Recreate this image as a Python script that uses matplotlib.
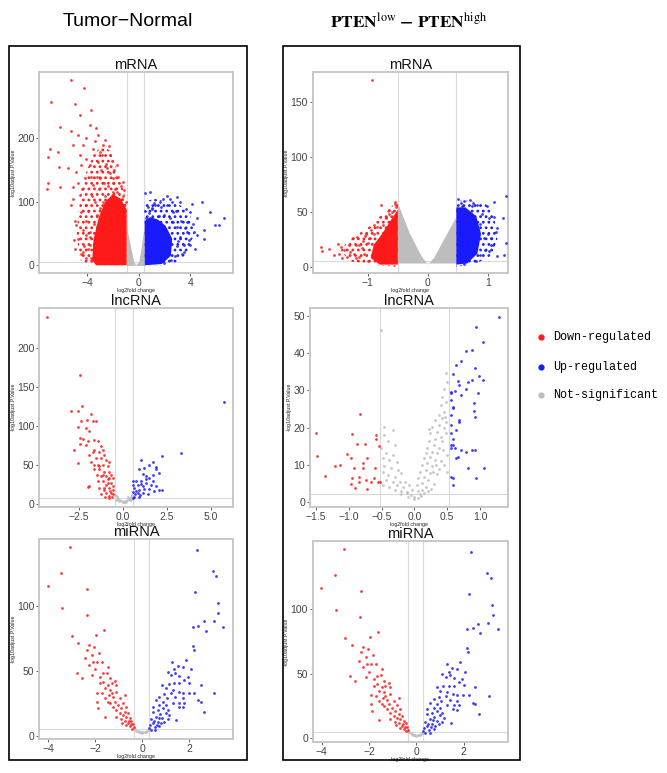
import numpy as np
import matplotlib
matplotlib.use("Agg")
import matplotlib.pyplot as plt
from matplotlib.patches import Rectangle
from matplotlib.lines import Line2D

plt.rcParams['font.family'] = ['Liberation Sans', 'DejaVu Sans']
plt.rcParams['mathtext.fontset'] = 'stix'
plt.rcParams['hatch.linewidth'] = 1.2

RED = '#ff1a1a'
BLUE = '#1a1aff'
GRAY = '#bdbdbd'

# ---------------- Tumor-Normal, mRNA ----------------
# dense clouds: outline of the speckled halo and of the solid part
tn_mrna_down_halo = [(-0.93, 0), (-0.93, 100), (-1.5, 140), (-2.2, 180), (-2.8, 190), (-3.5, 175),
                     (-4.2, 140), (-4.6, 95), (-4.8, 50), (-4.6, 10), (-4.0, 0)]
tn_mrna_down_core = [(-0.93, 0), (-0.93, 88), (-1.4, 105), (-2.0, 112), (-2.6, 100), (-3.1, 75),
                     (-3.5, 40), (-3.6, 8), (-3.3, 0)]
tn_mrna_down = [(-5.22, 292), (-4.26, 279), (-6.78, 257), (-4.96, 254), (-3.66, 245), (-4.57, 237),
                (-6.13, 218), (-5.22, 211), (-6.91, 184), (-6.26, 179), (-7.04, 171), (-6.18, 155),
                (-5.48, 153), (-7.04, 129), (-7.12, 121), (-6.13, 124), (-5.09, 124), (-4.83, 147),
                (-4.31, 189), (-4.05, 200), (-3.27, 216), (-3.14, 205), (-3.79, 221), (-4.70, 205),
                (-5.09, 189), (-3.53, 184), (-2.75, 189), (-2.88, 174), (-4.05, 168), (-4.57, 174),
                (-4.44, 158), (-3.79, 158), (-3.14, 163), (-2.49, 153), (-5.09, 105), (-4.57, 111),
                (-5.22, 95), (-4.83, 63), (-4.44, 84), (-4.05, 95), (-4.05, 47), (-4.70, 42),
                (-4.31, 21), (-3.79, 53), (-3.79, 32), (-4.18, 137), (-3.53, 126), (-3.01, 137),
                (-2.23, 174), (-1.97, 137), (-1.71, 116), (-1.45, 100), (-3.53, 11), (-4.05, 11),
                (-4.96, 26), (-1.1, 95), (-1.3, 105), (-1.5, 92), (-1.8, 120), (-2.0, 130),
                (-2.2, 145), (-2.4, 125), (-2.6, 110), (-2.8, 100), (-3.0, 90), (-3.2, 80),
                (-3.5, 65), (-3.8, 45), (-3.9, 25), (-3.7, 12), (-3.3, 8), (-2.9, 3), (-2.0, 115),
                (-2.3, 100), (-2.7, 130), (-3.1, 120), (-3.4, 100), (-1.4, 125), (-1.2, 110),
                (-1.0, 100), (-1.6, 140), (-1.9, 150), (-2.1, 165), (-2.5, 160), (-2.9, 150),
                (-3.2, 140), (-3.6, 110), (-3.9, 85), (-4.1, 70), (-4.3, 55), (-4.2, 30), (-4.5, 18),
                (-1.2, 132), (-1.7, 158), (-2.3, 188), (-3.0, 178), (-3.7, 140), (-4.4, 120),
                (-4.9, 70), (-5.0, 40), (-4.7, 130), (-2.6, 198), (-1.1, 118), (-3.4, 196)]
tn_mrna_ns_core = [(-0.92, 62), (-0.6, 30), (-0.35, 5), (-0.2, 0), (0.05, 5), (0.25, 30),
                   (0.45, 58), (0.45, -1), (-0.92, -1)]
tn_mrna_up_halo = [(0.47, 0), (0.47, 100), (1.2, 105), (2.2, 100), (3.2, 95), (4.0, 80), (4.3, 50),
                   (3.8, 20), (3.0, 5), (2.0, 0)]
tn_mrna_up_core = [(0.47, 0), (0.47, 70), (0.9, 76), (1.5, 72), (2.1, 62), (2.6, 42), (2.5, 15),
                   (1.8, 2)]
tn_mrna_up = [(0.88, 116), (0.52, 114), (2.44, 105), (3.22, 100), (4.91, 100), (4.13, 97),
              (6.6, 74), (6.21, 63), (5.95, 63), (5.04, 42), (4.26, 53), (4.0, 32), (4.39, 26),
              (3.48, 21), (5.56, 84), (4.52, 74), (3.74, 68), (2.18, 110), (1.66, 100), (2.70, 84),
              (3.74, 53), (3.09, 39), (3.48, 32), (5.04, 55), (4.0, 84), (2.96, 108), (0.6, 75),
              (0.8, 82), (1.0, 90), (1.3, 95), (1.7, 92), (2.0, 80), (2.4, 75), (2.7, 68), (3.0, 60),
              (3.2, 45), (3.0, 30), (2.8, 15), (2.5, 8), (2.0, 3), (1.0, 88), (1.6, 78), (2.2, 95),
              (2.9, 85), (3.3, 70), (3.6, 58), (3.9, 40), (3.4, 18), (4.2, 65), (4.5, 48), (3.7, 88),
              (2.6, 100), (1.9, 104), (1.2, 98), (0.7, 92), (0.5, 85)]

# ---------------- PTEN low-high, mRNA ----------------
pt_mrna_down_halo = [(-0.5, 0), (-0.5, 60), (-0.7, 50), (-0.9, 40), (-1.1, 32), (-1.3, 25),
                     (-1.45, 15), (-1.3, 5), (-1.0, 2)]
pt_mrna_down_core = [(-0.5, 2), (-0.5, 52), (-0.62, 42), (-0.76, 30), (-0.9, 20), (-0.95, 8),
                     (-0.8, 2)]
pt_mrna_down = [(-0.93, 170), (-1.78, 18), (-1.75, 14), (-1.64, 16), (-1.50, 21), (-1.45, 18),
                (-1.47, 12), (-1.39, 15), (-1.31, 20), (-1.25, 26), (-1.17, 27), (-1.14, 20),
                (-1.08, 23), (-1.03, 30), (-0.97, 26), (-0.89, 38), (-0.80, 45), (-0.78, 56),
                (-0.64, 48), (-0.55, 59), (-0.53, 54), (-0.69, 44), (-1.22, 12), (-1.06, 12),
                (-1.34, 9), (-1.14, 9), (-1.56, 11), (-1.42, 8), (-0.55, 57), (-0.6, 50), (-0.7, 45),
                (-0.75, 38), (-0.9, 30), (-1.0, 22), (-1.1, 17), (-1.2, 8), (-1.0, 5), (-0.65, 52),
                (-0.85, 36), (-1.05, 28), (-0.95, 33), (-1.2, 20), (-1.3, 13)]
pt_mrna_ns_core = [(-0.5, 58), (-0.3, 30), (-0.1, 9), (0.0, 2), (0.1, 8), (0.3, 28), (0.47, 45),
                   (0.47, 3), (-0.5, 3)]
pt_mrna_up_halo = [(0.47, 0), (0.47, 60), (0.7, 60), (0.95, 58), (1.1, 45), (1.15, 25), (1.05, 10),
                   (0.8, 3)]
pt_mrna_up_core = [(0.47, 2), (0.47, 54), (0.62, 54), (0.8, 46), (0.88, 30), (0.82, 12), (0.65, 3)]
pt_mrna_up = [(1.29, 64), (1.10, 59), (1.25, 44), (1.29, 22), (1.26, 11), (1.15, 10), (1.04, 20),
              (1.12, 32), (1.01, 44), (0.98, 55), (0.82, 56), (0.73, 55), (0.56, 55), (0.87, 39),
              (1.07, 20), (1.15, 35), (1.01, 14), (0.87, 11), (0.93, 26), (0.5, 62), (0.6, 60),
              (0.75, 58), (0.9, 48), (1.0, 30), (0.95, 15), (0.8, 5), (0.6, 3), (1.05, 26),
              (0.7, 61), (0.55, 58), (1.1, 45)]

# ---------------- Tumor-Normal, lncRNA ----------------
tn_lnc_down = [(-4.30, 240), (-2.45, 166), (-2.30, 125), (-2.92, 119), (-2.55, 119), (-1.79, 115),
               (-2.36, 106), (-2.04, 108), (-1.70, 106), (-1.51, 106), (-2.55, 98), (-2.08, 97),
               (-1.89, 93), (-2.45, 85), (-2.26, 83), (-1.98, 81), (-1.60, 82), (-1.42, 80),
               (-2.08, 76), (-1.23, 74), (-1.13, 69), (-2.74, 69), (-2.45, 77), (-1.60, 69),
               (-1.32, 67), (-1.04, 63), (-1.89, 63), (-1.51, 59), (-1.23, 59), (-0.94, 56),
               (-2.55, 52), (-1.79, 54), (-1.42, 50), (-1.13, 50), (-0.85, 48), (-1.60, 44),
               (-1.32, 44), (-1.04, 41), (-0.75, 41), (-1.89, 22), (-1.98, 21), (-1.47, 37),
               (-1.23, 35), (-0.94, 35), (-0.75, 33), (-1.42, 29), (-1.13, 29), (-0.85, 26),
               (-0.66, 26), (-1.32, 20), (-1.04, 20), (-0.75, 20), (-0.57, 22), (-0.94, 14),
               (-0.66, 14), (-1.23, 12), (-0.57, 12), (-0.75, 7), (-1.04, 18), (-0.85, 31),
               (-0.66, 37), (-0.75, 54), (-0.57, 33), (-0.57, 18), (-0.94, 24), (-1.13, 37),
               (-1.32, 48), (-1.60, 50), (-1.70, 67), (-0.8, 10), (-0.6, 8), (-1.0, 9), (-0.7, 16)]
tn_lnc_ns = [(-0.45, 11), (-0.35, 8), (-0.25, 6), (-0.15, 4), (-0.05, 3), (0.05, 2.5), (0.15, 3),
             (0.25, 4), (0.35, 6), (0.45, 8), (0.55, 11), (-0.4, 5), (-0.2, 3), (0.0, 1.5),
             (0.2, 2), (0.4, 4), (0.5, 6), (-0.3, 10), (0.3, 9)]
tn_lnc_up = [(5.75, 131), (3.30, 65), (2.23, 61), (1.04, 56), (1.70, 54), (1.51, 50), (1.89, 47),
             (1.23, 46), (0.94, 44), (2.08, 39), (1.74, 37), (1.51, 33), (1.32, 35), (1.13, 38),
             (0.75, 29), (1.04, 29), (1.32, 26), (1.60, 24), (1.89, 22), (2.08, 17), (2.26, 17),
             (0.57, 24), (0.85, 24), (1.13, 22), (0.66, 20), (0.94, 18), (1.23, 19), (1.51, 19),
             (0.60, 15), (0.85, 14), (1.13, 14), (1.42, 12), (0.66, 9), (0.94, 9), (0.75, 16),
             (1.04, 25), (0.57, 29), (1.32, 31), (1.70, 29), (1.79, 16), (1.89, 44), (0.7, 12),
             (1.0, 11), (0.6, 7)]

# ---------------- PTEN low-high, lncRNA ----------------
pt_lnc_down = [(-1.50, 18.7), (-1.48, 12.5), (-1.36, 7.1), (-1.21, 9.7), (-1.13, 10.0),
               (-1.03, 13.0), (-0.95, 18.2), (-0.97, 12.0), (-0.87, 15.6), (-0.75, 15.5),
               (-0.83, 23.6), (-0.92, 9.1), (-0.78, 9.1), (-0.95, 6.6), (-0.97, 4.8), (-0.91, 3.9),
               (-0.85, 5.4), (-0.84, 6.9), (-0.79, 10.4), (-0.73, 3.6), (-0.74, 6.0), (-0.66, 5.4),
               (-0.60, 9.3), (-0.61, 6.6), (-0.59, 17.1), (-0.58, 18.0), (-0.56, 5.4),
               (-0.54, 15.2), (-0.53, 5.4), (-0.73, 11.8)]
pt_lnc_ns = [(-0.51, 46.2), (-0.47, 20.3), (-0.33, 19.4), (-0.46, 18.0), (-0.40, 16.3),
             (-0.30, 15.4), (-0.51, 14.5), (-0.43, 13.1), (-0.33, 12.7), (-0.48, 11.8),
             (-0.38, 11.3), (-0.27, 10.9), (-0.46, 9.6), (-0.35, 9.1), (-0.25, 8.7), (-0.48, 8.2),
             (-0.40, 7.3), (-0.30, 6.9), (-0.20, 7.8), (-0.43, 6.0), (-0.33, 5.5), (-0.22, 5.5),
             (-0.15, 5.5), (-0.48, 4.6), (-0.38, 4.2), (-0.27, 4.6), (-0.17, 4.2), (-0.09, 4.6),
             (-0.30, 3.3), (-0.20, 2.9), (-0.12, 2.4), (0.48, 34.6), (0.50, 32.3), (0.45, 30.5),
             (0.42, 28.3), (0.48, 27.0), (0.40, 26.1), (0.45, 24.3), (0.37, 23.4), (0.42, 22.5),
             (0.32, 22.1), (0.48, 21.6), (0.38, 20.7), (0.27, 20.3), (0.45, 19.8), (0.35, 18.9),
             (0.24, 18.5), (0.40, 17.6), (0.32, 17.1), (0.22, 16.3), (0.42, 16.3), (0.30, 15.4),
             (0.19, 14.5), (0.37, 14.5), (0.27, 13.6), (0.17, 13.1), (0.35, 13.1), (0.24, 12.2),
             (0.14, 11.8), (0.32, 11.3), (0.19, 10.4), (0.11, 10.0), (0.27, 9.6), (0.17, 8.7),
             (0.09, 8.2), (0.24, 7.8), (0.14, 6.9), (0.06, 6.4), (0.21, 6.0), (0.11, 5.1),
             (0.04, 4.6), (0.17, 4.2), (-0.04, 3.3), (0.06, 2.9), (0.22, 19.6), (0.48, 18.5),
             (0.50, 12.7), (0.50, 8.2), (0.45, 10.0), (-0.1, 1.5), (0.0, 1.0), (0.05, 1.2),
             (0.1, 1.8), (-0.05, 2.0), (0.15, 2.5), (-0.2, 2.2), (0.2, 3.0), (0.0, 1.5),
             (0.08, 2.2), (-0.12, 2.8), (0.25, 3.5), (0.12, 3.2), (0.30, 5.0), (0.35, 7.5),
             (0.40, 11.0), (0.28, 8.0), (0.44, 14.0), (0.38, 9.0), (0.33, 10.0), (0.47, 23.0)]
pt_lnc_up = [(1.28, 49.7), (0.94, 47.1), (1.04, 42.9), (0.79, 40.6), (0.87, 40.8), (0.71, 37.9),
             (0.63, 36.8), (0.92, 36.1), (0.58, 34.3), (0.98, 33.9), (0.81, 32.3), (0.87, 32.7),
             (0.66, 32.6), (0.68, 31.4), (1.04, 32.8), (0.79, 30.5), (0.55, 29.6), (0.62, 29.8),
             (0.71, 28.8), (0.56, 29.2), (0.97, 29.2), (0.55, 27.4), (0.59, 25.6), (0.58, 25.2),
             (0.90, 26.5), (0.90, 24.5), (0.92, 22.9), (0.55, 23.4), (0.68, 22.1), (0.68, 21.4),
             (0.55, 20.7), (0.63, 19.4), (0.55, 18.5), (0.58, 17.1), (0.55, 15.4), (0.58, 15.4),
             (0.61, 14.6), (0.56, 14.5), (0.71, 14.0), (0.79, 13.6), (0.87, 14.0), (0.92, 14.0),
             (0.67, 12.2), (0.63, 11.8), (1.06, 9.1), (0.81, 9.1), (0.55, 6.9), (0.59, 6.6),
             (0.94, 6.6), (0.58, 4.6)]

# ---------------- miRNA (same in both comparisons) ----------------
mirna_down = [(-3.07, 145.7), (-3.46, 125.8), (-4.03, 115.5), (-2.34, 113.7), (-3.42, 99.2),
              (-2.37, 93.5), (-1.62, 81.9), (-3.00, 77.5), (-1.97, 78.0), (-2.72, 72.1),
              (-2.25, 70.3), (-2.06, 69.0), (-2.34, 66.4), (-1.83, 64.3), (-2.15, 62.5),
              (-2.44, 59.9), (-1.92, 57.4), (-2.11, 57.4), (-1.73, 57.4), (-1.45, 53.5),
              (-2.25, 54.8), (-2.01, 51.4), (-2.79, 48.3), (-1.66, 48.3), (-1.52, 48.8),
              (-2.15, 47.0), (-2.58, 44.4), (-1.80, 45.7), (-1.38, 44.4), (-1.66, 41.9),
              (-1.17, 42.6), (-1.31, 40.6), (-1.80, 40.6), (-1.45, 39.3), (-1.10, 39.3),
              (-1.59, 36.7), (-1.38, 35.4), (-1.94, 33.3), (-1.73, 32.8), (-1.31, 32.8),
              (-1.10, 34.1), (-0.75, 31.5), (-1.41, 31.5), (-1.59, 28.9), (-1.24, 29.7),
              (-0.96, 28.9), (-1.92, 26.4), (-1.45, 26.4), (-1.17, 26.4), (-0.82, 25.6),
              (-1.38, 25.1), (-1.03, 23.8), (-1.24, 22.5), (-1.87, 21.2), (-0.89, 21.2),
              (-0.68, 22.5), (-1.10, 19.9), (-0.75, 18.6), (-0.96, 17.3), (-0.61, 17.3),
              (-0.82, 16.0), (-1.59, 14.2), (-1.10, 14.7), (-0.68, 14.7), (-0.54, 13.4),
              (-0.89, 12.7), (-0.75, 11.6), (-0.46, 11.6), (-0.61, 9.6), (-0.39, 9.0),
              (-0.54, 7.5), (-0.37, 6.5), (-0.70, 8.3), (-0.45, 5.5), (-0.58, 11.0),
              (-0.85, 10.0), (-0.50, 9.0)]
mirna_ns = [(-0.35, 6), (-0.25, 4), (-0.15, 3), (-0.05, 2.5), (0.05, 2.5), (0.15, 3), (0.25, 4.5),
            (-0.3, 5), (0.2, 3.5), (-0.1, 2.8), (0.0, 2.2), (0.1, 2.8), (-0.2, 3.5)]
mirna_up = [(2.31, 143.4), (2.99, 127.1), (3.15, 123.3), (2.24, 111.6), (3.20, 102.6),
            (3.24, 94.8), (3.04, 89.1), (2.61, 88.4), (2.39, 85.0), (2.14, 84.5), (3.44, 84.0),
            (2.70, 81.1), (2.14, 69.5), (2.18, 66.4), (1.86, 58.7), (1.27, 57.4), (1.51, 54.0),
            (1.37, 51.4), (1.72, 53.5), (2.07, 51.4), (1.08, 49.6), (1.41, 48.8), (1.23, 47.0),
            (1.58, 46.3), (1.93, 45.7), (1.79, 43.2), (2.00, 41.1), (0.85, 39.3), (1.13, 40.1),
            (1.37, 40.6), (1.58, 40.6), (2.49, 39.3), (0.99, 36.7), (1.30, 35.4), (1.55, 34.1),
            (1.72, 33.3), (1.97, 33.3), (2.21, 33.3), (1.23, 32.8), (0.94, 32.0), (3.06, 32.8),
            (0.73, 30.2), (1.04, 28.9), (1.41, 29.7), (1.72, 28.9), (0.59, 27.6), (0.87, 26.4),
            (1.30, 25.6), (1.58, 25.6), (1.79, 25.6), (2.39, 27.6), (2.49, 26.4), (0.73, 23.8),
            (1.01, 23.8), (1.55, 22.5), (0.45, 22.5), (0.66, 19.9), (0.87, 21.2), (1.08, 19.9),
            (1.72, 22.0), (2.63, 18.6), (0.45, 18.6), (0.76, 16.8), (0.99, 17.8), (1.15, 16.0),
            (0.59, 14.7), (0.85, 13.4), (1.44, 12.1), (0.38, 12.7), (0.66, 10.9), (0.94, 10.9),
            (0.45, 9.6), (0.31, 8.3), (0.73, 7.5), (0.52, 6.5), (0.28, 5.7), (0.56, 4.4),
            (0.38, 4.4), (0.80, 9.6), (1.08, 12.7), (0.62, 8.5), (0.50, 11.5), (0.70, 14.0)]


def scatter_pts(ax, pts, color):
    pts = np.array(pts)
    ax.scatter(pts[:, 0], pts[:, 1], s=4, c=color, marker='o', linewidths=0, alpha=0.85, zorder=3)


def fill_cloud(ax, color, core, halo=None):
    # halo drawn as a dotted hatch, core solid
    if halo is not None:
        h = np.array(halo)
        ax.fill(h[:, 0], h[:, 1], facecolor='none', edgecolor=color, hatch='...', lw=0, zorder=2)
    c = np.array(core)
    ax.fill(c[:, 0], c[:, 1], color=color, lw=0, zorder=2)


def style_axes(ax, title, xlim, ylim, xticks, yticks, xticklabels, vlines, hline, title_pad=2):
    ax.set_xlim(*xlim)
    ax.set_ylim(*ylim)
    ax.set_xticks(xticks)
    if xticklabels is not None:
        ax.set_xticklabels(xticklabels)
    ax.set_yticks(yticks)
    for v in vlines:
        ax.axvline(v, color='#d9d9d9', lw=0.8, zorder=1)
    ax.axhline(hline, color='#d9d9d9', lw=0.8, zorder=1)
    for s in ax.spines.values():
        s.set_color('#c8c8c8')
        s.set_linewidth(1.4)
    ax.tick_params(labelsize=7.5, colors='#444444', length=2, width=0.6, pad=1.5)
    ax.set_xlabel('log2fold change', fontsize=3.8, labelpad=0.2, color='#222222')
    ax.set_ylabel('-log10adjust.P.Value', fontsize=3.8, labelpad=1, color='#222222')
    ax.set_title(title, fontsize=10.5, pad=title_pad, color='#111111')


fig = plt.figure(figsize=(6.67, 7.73), dpi=100)

# boxes around each comparison
fig.add_artist(Rectangle((9 / 667, 1 - 760 / 773), 238 / 667, 714 / 773, transform=fig.transFigure,
                         fill=False, ec='black', lw=1.2))
fig.add_artist(Rectangle((283 / 667, 1 - 760 / 773), 237 / 667, 714 / 773, transform=fig.transFigure,
                         fill=False, ec='black', lw=1.2))

fig.text(0.192, 0.972, 'Tumor\u2212Normal', fontsize=14, ha='center', va='center')
fig.text(0.612, 0.972, r'$\mathbf{PTEN}^{\mathrm{low}}\ \mathbf{-}\ \mathbf{PTEN}^{\mathrm{high}}$',
         fontsize=12.5, ha='center', va='center')

# A: Tumor-Normal mRNA
ax = fig.add_axes([0.059, 0.647, 0.290, 0.260])
fill_cloud(ax, GRAY, tn_mrna_ns_core)
fill_cloud(ax, RED, tn_mrna_down_core, tn_mrna_down_halo)
fill_cloud(ax, BLUE, tn_mrna_up_core, tn_mrna_up_halo)
scatter_pts(ax, tn_mrna_down, RED)
scatter_pts(ax, tn_mrna_up, BLUE)
style_axes(ax, 'mRNA', (-7.7, 7.3), (-12, 305), [-4, 0, 4], [0, 100, 200], None, [-0.92, 0.45], 5)

# B: PTEN mRNA
ax = fig.add_axes([0.469, 0.647, 0.292, 0.260])
fill_cloud(ax, GRAY, pt_mrna_ns_core)
fill_cloud(ax, RED, pt_mrna_down_core, pt_mrna_down_halo)
fill_cloud(ax, BLUE, pt_mrna_up_core, pt_mrna_up_halo)
scatter_pts(ax, pt_mrna_down, RED)
scatter_pts(ax, pt_mrna_up, BLUE)
style_axes(ax, 'mRNA', (-1.91, 1.32), (-5.5, 177), [-1, 0, 1], [0, 50, 100, 150], None, [-0.5, 0.47], 5)

# C: Tumor-Normal lncRNA
ax = fig.add_axes([0.059, 0.3445, 0.290, 0.2574])
scatter_pts(ax, tn_lnc_ns, GRAY)
scatter_pts(ax, tn_lnc_down, RED)
scatter_pts(ax, tn_lnc_up, BLUE)
style_axes(ax, 'lncRNA', (-4.73, 6.25), (-4, 252), [-2.5, 0, 2.5, 5.0], [0, 50, 100, 150, 200],
           ['\u22122.5', '0.0', '2.5', '5.0'], [-0.44, 0.57], 7)

# D: PTEN lncRNA
ax = fig.add_axes([0.4648, 0.3445, 0.2964, 0.2574])
scatter_pts(ax, pt_lnc_ns, GRAY)
scatter_pts(ax, pt_lnc_down, RED)
scatter_pts(ax, pt_lnc_up, BLUE)
style_axes(ax, 'lncRNA', (-1.59, 1.42), (-1.2, 52.2), [-1.5, -1.0, -0.5, 0, 0.5, 1.0],
           [0, 10, 20, 30, 40, 50], ['\u22121.5', '\u22121.0', '\u22120.5', '0.0', '0.5', '1.0'],
           [-0.53, 0.53], 2.2)

# E, F: miRNA
for rect in ([0.059, 0.0436, 0.290, 0.2587], [0.469, 0.0400, 0.292, 0.260]):
    ax = fig.add_axes(rect)
    scatter_pts(ax, mirna_ns, GRAY)
    scatter_pts(ax, mirna_down, RED)
    scatter_pts(ax, mirna_up, BLUE)
    style_axes(ax, 'miRNA', (-4.38, 3.85), (-2.8, 152), [-4, -2, 0, 2], [0, 50, 100], None,
               [-0.35, 0.27], 5, title_pad=-6)

# legend
legend_labels = ['Down-regulated', 'Up-regulated', 'Not-significant']
legend_colors = [RED, BLUE, GRAY]
legend_y = [336.7, 366.7, 395]
for lab, col, y in zip(legend_labels, legend_colors, legend_y):
    fig.add_artist(Line2D([540.7 / 667], [1 - y / 773], marker='o', ms=3.5, color=col, lw=0,
                          transform=fig.transFigure))
    fig.text(552.7 / 667, 1 - y / 773, lab, fontsize=8.5, family='Liberation Mono',
             ha='left', va='center')

fig.savefig('out.png', dpi=100)
